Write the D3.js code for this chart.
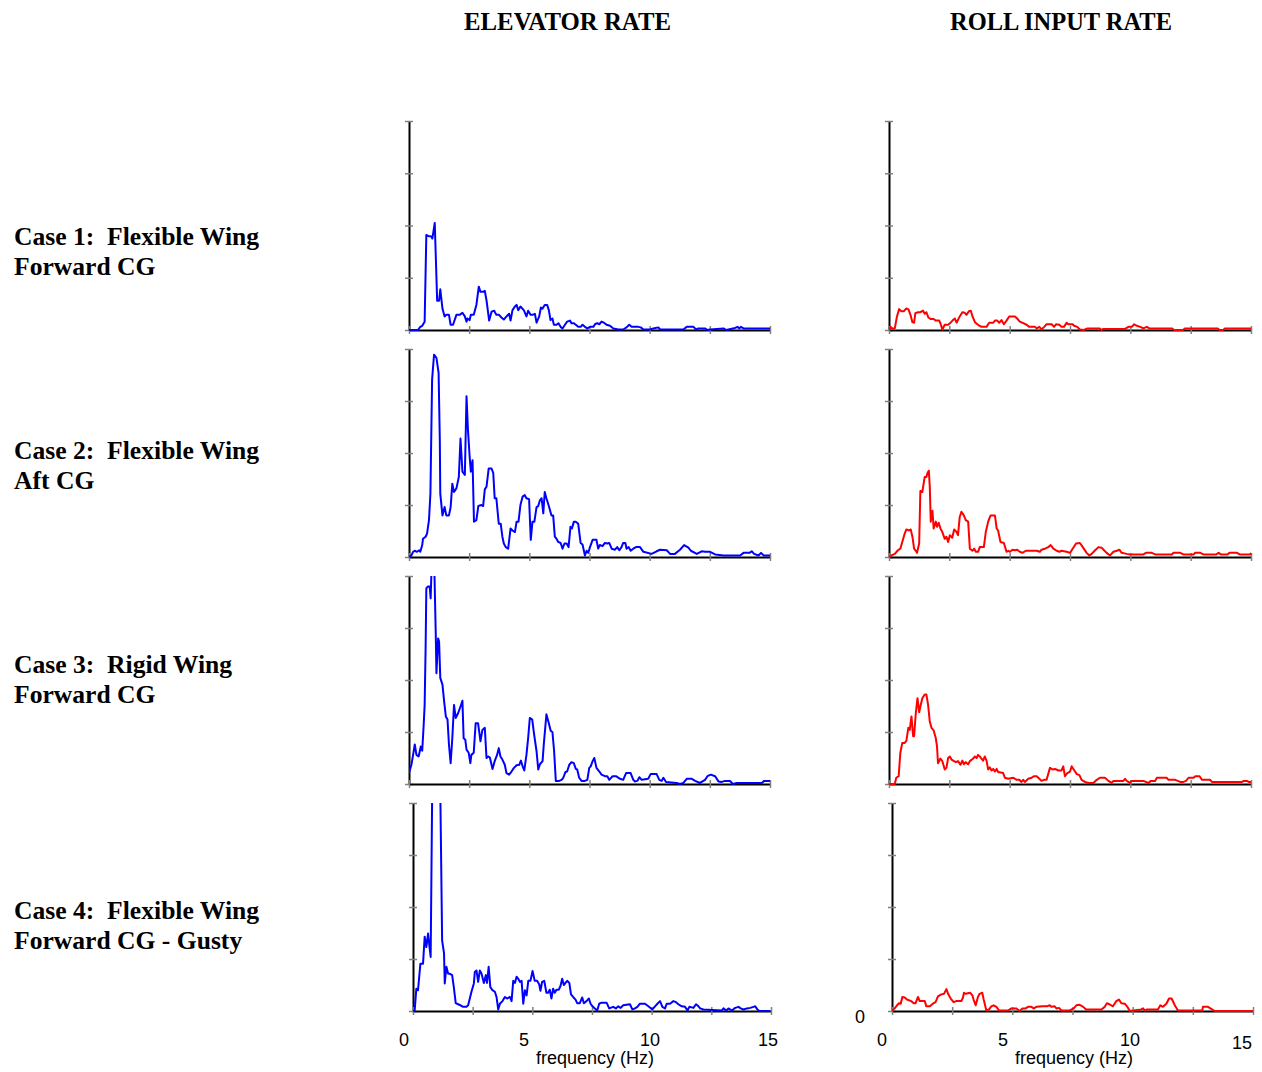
<!DOCTYPE html>
<html><head><meta charset="utf-8">
<script src="https://cdn.jsdelivr.net/npm/d3@7"></script>
<style>body{margin:0;background:#fff} svg{display:block}</style>
</head><body><svg id="c" width="1262" height="1072"></svg>
<script>
const columnTitles = ["ELEVATOR RATE", "ROLL INPUT RATE"];
const caseLines = [
  ["Case 1:  Flexible Wing", "Forward CG"],
  ["Case 2:  Flexible Wing", "Aft CG"],
  ["Case 3:  Rigid Wing", "Forward CG"],
  ["Case 4:  Flexible Wing", "Forward CG - Gusty"]
];
const xTickLabels = [0, 5, 10, 15];
const xTickMarks = [0, 2.5, 5, 7.5, 10, 12.5, 15];
const yTickMarks = [0, 1, 2, 3, 4];
const xLabel = "frequency (Hz)";
const yZeroLabel = "0";

// [frequency Hz, PSD (tick units)]
const elev1 = [[0,0],[0.37,0],[0.47,0.06],[0.55,0.08],[0.65,0.16],[0.72,1.82],[0.79,1.80],[0.93,1.79],[0.97,1.75],[1.07,2.05],[1.17,0.56],[1.25,0.56],[1.30,0.78],[1.39,0.41],[1.48,0.26],[1.55,0.29],[1.66,0.29],[1.73,0.10],[1.83,0.10],[1.97,0.29],[2.11,0.29],[2.22,0.33],[2.32,0.26],[2.39,0.16],[2.43,0.22],[2.52,0.19],[2.57,0.29],[2.69,0.29],[2.80,0.48],[2.90,0.83],[2.97,0.73],[3.08,0.73],[3.15,0.75],[3.22,0.57],[3.33,0.18],[3.43,0.35],[3.54,0.37],[3.63,0.29],[3.74,0.29],[3.84,0.24],[3.94,0.20],[4.05,0.26],[4.16,0.31],[4.22,0.18],[4.30,0.38],[4.40,0.45],[4.47,0.48],[4.54,0.38],[4.63,0.45],[4.77,0.38],[4.88,0.26],[4.95,0.37],[5.05,0.29],[5.13,0.29],[5.23,0.31],[5.30,0.14],[5.41,0.26],[5.48,0.43],[5.55,0.41],[5.64,0.48],[5.74,0.48],[5.81,0.38],[5.88,0.19],[5.96,0.22],[6.02,0.10],[6.13,0.10],[6.21,0.13],[6.30,0.06],[6.38,0.03],[6.48,0.10],[6.57,0.16],[6.69,0.18],[6.75,0.13],[6.85,0.13],[6.93,0.10],[7.03,0.06],[7.13,0.06],[7.21,0.10],[7.31,0.06],[7.41,0.03],[7.52,0.06],[7.66,0.06],[7.73,0.11],[7.82,0.13],[7.91,0.11],[8.00,0.16],[8.10,0.14],[8.21,0.10],[8.35,0.08],[8.49,0.03],[8.70,0.01],[8.90,0.01],[9.04,0.05],[9.15,0.10],[9.25,0.06],[9.53,0.06],[9.63,0.05],[9.74,0.01],[10.01,0.01],[10.15,0.03],[10.36,0.05],[10.43,0.01],[11.40,0.01],[11.54,0.06],[11.82,0.06],[11.93,0.01],[12.02,0.03],[12.30,0.03],[12.40,0],[12.51,0.01],[13.07,0.03],[13.18,0],[13.27,0.01],[13.55,0.04],[13.65,0.06],[13.73,0.03],[13.79,0.06],[13.90,0.03],[15,0.03]];
const elev2 = [[0,0],[0.10,0.03],[0.17,0.10],[0.24,0.12],[0.33,0.10],[0.42,0.13],[0.47,0.10],[0.55,0.23],[0.58,0.35],[0.69,0.39],[0.75,0.45],[0.83,0.71],[0.89,1.22],[0.96,3.41],[1.04,3.89],[1.14,3.83],[1.23,3.54],[1.28,2.25],[1.30,1.22],[1.39,0.80],[1.48,0.96],[1.55,0.80],[1.66,0.80],[1.73,0.96],[1.80,1.41],[1.87,1.25],[1.97,1.32],[2.07,1.54],[2.14,2.28],[2.22,1.64],[2.32,1.58],[2.39,3.09],[2.45,2.44],[2.52,1.93],[2.57,1.64],[2.64,1.86],[2.70,0.68],[2.80,0.71],[2.88,0.98],[3.01,1.00],[3.08,0.98],[3.15,1.30],[3.22,1.35],[3.31,1.70],[3.43,1.70],[3.50,1.62],[3.56,1.13],[3.63,1.13],[3.73,0.64],[3.81,0.64],[3.88,0.39],[3.94,0.26],[4.02,0.19],[4.12,0.16],[4.22,0.55],[4.30,0.51],[4.40,0.48],[4.47,0.68],[4.55,0.68],[4.63,1.00],[4.72,1.16],[4.81,1.19],[4.88,1.13],[4.99,1.11],[5.06,0.33],[5.13,0.68],[5.21,0.68],[5.30,0.96],[5.37,0.98],[5.44,1.09],[5.51,1.13],[5.58,0.84],[5.64,1.25],[5.71,1.13],[5.81,0.98],[5.92,0.80],[5.99,0.80],[6.06,0.39],[6.13,0.35],[6.20,0.29],[6.30,0.27],[6.38,0.16],[6.46,0.26],[6.55,0.26],[6.63,0.19],[6.71,0.58],[6.77,0.55],[6.85,0.68],[6.93,0.68],[7.03,0.64],[7.13,0.27],[7.21,0.24],[7.31,0.03],[7.38,0.12],[7.45,0.08],[7.52,0.19],[7.63,0.33],[7.79,0.33],[7.86,0.16],[7.93,0.23],[8.04,0.21],[8.14,0.27],[8.24,0.26],[8.32,0.27],[8.42,0.16],[8.56,0.14],[8.65,0.19],[8.74,0.13],[8.83,0.19],[8.90,0.27],[8.99,0.27],[9.04,0.16],[9.13,0.19],[9.21,0.12],[9.32,0.16],[9.43,0.19],[9.60,0.19],[9.74,0.10],[10.08,0.06],[10.29,0.11],[10.43,0.14],[10.71,0.13],[10.85,0.06],[11.05,0.06],[11.26,0.14],[11.43,0.23],[11.61,0.18],[11.71,0.12],[11.96,0.06],[12.16,0.11],[12.30,0.10],[12.51,0.10],[12.72,0.05],[13.07,0.03],[13.76,0.03],[13.90,0.08],[14.15,0.08],[14.24,0.11],[14.34,0.06],[14.52,0.03],[14.63,0.08],[14.73,0.03],[15,0.03]];
const elev3 = [[0,0.21],[0.10,0.37],[0.17,0.56],[0.24,0.76],[0.31,0.56],[0.40,0.53],[0.49,0.72],[0.55,0.64],[0.61,1.14],[0.65,1.52],[0.69,2.61],[0.72,3.76],[0.79,3.80],[0.86,3.80],[0.90,3.57],[0.94,4.2],[1.00,4.3],[1.05,4.2],[1.11,2.93],[1.14,2.13],[1.21,2.80],[1.25,2.74],[1.30,2.04],[1.39,1.91],[1.46,1.59],[1.53,1.30],[1.60,1.24],[1.66,0.76],[1.73,0.40],[1.80,0.88],[1.87,1.52],[1.94,1.27],[2.04,1.36],[2.14,1.49],[2.22,1.60],[2.27,0.88],[2.34,0.85],[2.39,0.66],[2.48,0.60],[2.55,0.40],[2.59,0.56],[2.69,0.60],[2.77,1.17],[2.87,1.17],[2.97,0.82],[3.05,1.04],[3.15,1.08],[3.22,0.50],[3.29,0.53],[3.36,0.51],[3.47,0.29],[3.56,0.44],[3.66,0.56],[3.73,0.69],[3.80,0.53],[3.88,0.47],[3.98,0.37],[4.05,0.21],[4.16,0.18],[4.26,0.24],[4.36,0.31],[4.47,0.36],[4.58,0.37],[4.65,0.45],[4.72,0.34],[4.79,0.26],[4.88,0.56],[4.95,0.88],[5.02,1.27],[5.12,1.24],[5.20,0.95],[5.30,0.63],[5.37,0.28],[5.44,0.38],[5.55,0.44],[5.60,0.76],[5.71,1.34],[5.81,1.17],[5.89,1.02],[5.96,1.00],[6.03,0.63],[6.10,0.06],[6.24,0.06],[6.34,0.08],[6.41,0.12],[6.50,0.23],[6.57,0.24],[6.66,0.37],[6.75,0.42],[6.85,0.40],[6.93,0.29],[6.99,0.28],[7.07,0.12],[7.17,0.06],[7.31,0.06],[7.41,0.08],[7.49,0.31],[7.55,0.34],[7.63,0.44],[7.70,0.50],[7.79,0.31],[7.91,0.24],[8.00,0.18],[8.14,0.15],[8.24,0.15],[8.32,0.08],[8.46,0.15],[8.60,0.15],[8.77,0.10],[8.90,0.08],[9.02,0.21],[9.21,0.21],[9.32,0.08],[9.39,0.05],[9.49,0.06],[9.57,0.13],[9.67,0.08],[9.94,0.10],[10.04,0.19],[10.29,0.19],[10.40,0.08],[10.50,0.06],[10.57,0.12],[10.68,0.04],[11.12,0.02],[11.26,0],[11.40,0.02],[11.54,0.10],[11.75,0.10],[11.89,0.06],[12.09,0.02],[12.30,0.08],[12.40,0.15],[12.54,0.18],[12.72,0.15],[12.86,0.05],[13.00,0.04],[13.13,0.06],[13.34,0.06],[13.45,0],[13.62,0.02],[14.66,0.02],[14.76,0.06],[15,0.06]];
const elev4 = [[0,0],[0.07,0.01],[0.14,0.43],[0.21,0.40],[0.31,0.91],[0.42,0.91],[0.49,1.43],[0.56,1.23],[0.63,1.49],[0.70,1.20],[0.74,1.04],[0.83,5.5],[0.97,6.0],[1.11,5.5],[1.22,1.36],[1.30,1.11],[1.33,0.53],[1.40,0.85],[1.47,0.72],[1.57,0.71],[1.64,0.69],[1.71,0.46],[1.79,0.15],[1.89,0.13],[1.99,0.11],[2.10,0.08],[2.24,0.08],[2.31,0.11],[2.38,0.24],[2.45,0.37],[2.55,0.53],[2.59,0.75],[2.66,0.78],[2.73,0.56],[2.80,0.78],[2.87,0.72],[2.97,0.54],[3.05,0.69],[3.10,0.54],[3.17,0.85],[3.24,0.46],[3.33,0.40],[3.43,0.37],[3.50,0.27],[3.57,0.03],[3.64,0.14],[3.75,0.19],[3.85,0.27],[3.94,0.24],[4.06,0.27],[4.13,0.19],[4.20,0.58],[4.27,0.54],[4.34,0.66],[4.41,0.62],[4.48,0.56],[4.55,0.58],[4.62,0.14],[4.69,0.40],[4.76,0.30],[4.83,0.58],[4.92,0.58],[5.01,0.77],[5.10,0.58],[5.20,0.58],[5.29,0.51],[5.34,0.39],[5.41,0.56],[5.50,0.58],[5.59,0.35],[5.66,0.35],[5.73,0.41],[5.80,0.24],[5.87,0.43],[5.94,0.35],[6.01,0.41],[6.11,0.41],[6.18,0.48],[6.25,0.62],[6.32,0.50],[6.39,0.54],[6.46,0.58],[6.55,0.54],[6.62,0.32],[6.71,0.27],[6.81,0.22],[6.88,0.15],[6.99,0.15],[7.09,0.26],[7.16,0.15],[7.27,0.19],[7.37,0.24],[7.44,0.14],[7.52,0.09],[7.62,0.05],[7.72,0.01],[7.80,0.14],[7.90,0.16],[8.11,0.16],[8.22,0.05],[8.39,0.08],[8.50,0.05],[8.60,0.09],[8.70,0.06],[8.81,0.11],[9.09,0.13],[9.19,0.03],[9.30,0.05],[9.40,0.08],[9.51,0.14],[9.72,0.14],[9.86,0.09],[10.03,0.03],[10.14,0.09],[10.24,0.14],[10.35,0.19],[10.45,0.08],[10.56,0.05],[10.63,0.14],[10.77,0.14],[10.91,0.19],[11.02,0.17],[11.12,0.13],[11.26,0.09],[11.40,0.08],[11.50,0.01],[11.58,0.08],[11.75,0.06],[11.86,0.13],[11.96,0.09],[12.03,0.05],[12.17,0.03],[12.94,0.01],[13.01,0.05],[13.12,0.01],[13.22,0.05],[13.36,0.01],[13.50,0.06],[13.64,0.08],[13.73,0.05],[13.85,0.03],[13.99,0.05],[14.13,0.06],[14.27,0.08],[14.34,0.09],[14.43,0.03],[14.52,0],[14.97,0]];
const roll1 = [[0,0],[0.06,0.06],[0.14,0.03],[0.24,0.03],[0.33,0.26],[0.42,0.40],[0.51,0.36],[0.61,0.36],[0.72,0.41],[0.80,0.40],[0.89,0.29],[0.97,0.15],[1.04,0.14],[1.09,0.32],[1.20,0.34],[1.30,0.34],[1.41,0.37],[1.48,0.31],[1.55,0.34],[1.63,0.24],[1.72,0.21],[1.85,0.21],[1.94,0.18],[2.08,0.18],[2.13,0.13],[2.21,0.01],[2.31,0.10],[2.45,0.10],[2.55,0.14],[2.63,0.18],[2.73,0.22],[2.80,0.14],[2.93,0.26],[3.04,0.34],[3.14,0.33],[3.21,0.29],[3.31,0.36],[3.39,0.37],[3.46,0.26],[3.56,0.15],[3.69,0.10],[3.83,0.06],[4.04,0.06],[4.15,0.14],[4.32,0.14],[4.39,0.18],[4.48,0.18],[4.57,0.14],[4.66,0.19],[4.76,0.11],[4.87,0.18],[4.98,0.26],[5.22,0.26],[5.31,0.22],[5.42,0.16],[5.56,0.13],[5.70,0.10],[5.81,0.06],[6.05,0.06],[6.12,0.03],[6.23,0.06],[6.32,0.01],[6.43,0.06],[6.53,0.11],[6.74,0.11],[6.84,0.06],[6.92,0.11],[7.06,0.10],[7.15,0.06],[7.25,0.06],[7.36,0.14],[7.43,0.11],[7.61,0.11],[7.67,0.08],[7.80,0.06],[7.91,0.01],[8.08,0],[8.22,0.03],[8.72,0.03],[8.81,0],[8.88,0.02],[9.78,0.02],[9.92,0.06],[10.06,0.06],[10.16,0.11],[10.27,0.08],[10.41,0.06],[10.54,0.03],[10.68,0.06],[10.79,0.03],[11.72,0.03],[11.82,0],[12.18,0],[12.27,0.03],[13.62,0.03],[13.70,0],[13.84,0],[13.93,0.03],[15,0.03]];
const roll2 = [[0,0],[0.10,0.03],[0.24,0.06],[0.37,0.13],[0.47,0.16],[0.55,0.29],[0.65,0.45],[0.72,0.53],[0.83,0.51],[0.90,0.53],[0.97,0.39],[1.04,0.16],[1.11,0.12],[1.16,0.08],[1.25,0.26],[1.30,1.27],[1.38,1.25],[1.48,1.54],[1.55,1.54],[1.59,1.61],[1.65,1.66],[1.69,1.35],[1.73,0.68],[1.80,0.89],[1.85,0.55],[1.94,0.68],[1.99,0.58],[2.06,0.66],[2.13,0.55],[2.21,0.48],[2.31,0.35],[2.38,0.39],[2.45,0.29],[2.52,0.42],[2.62,0.37],[2.70,0.53],[2.80,0.48],[2.86,0.42],[2.93,0.77],[3.00,0.87],[3.10,0.80],[3.18,0.71],[3.28,0.68],[3.35,0.16],[3.46,0.12],[3.53,0.16],[3.60,0.10],[3.69,0.10],[3.76,0.19],[3.93,0.19],[4.01,0.48],[4.11,0.68],[4.21,0.80],[4.39,0.80],[4.46,0.55],[4.52,0.51],[4.62,0.29],[4.76,0.27],[4.87,0.10],[4.94,0.12],[5.01,0.10],[5.12,0.14],[5.22,0.13],[5.31,0.14],[5.42,0.10],[5.53,0.08],[5.67,0.12],[6.12,0.12],[6.25,0.10],[6.32,0.14],[6.46,0.16],[6.60,0.19],[6.70,0.23],[6.81,0.16],[6.95,0.12],[7.06,0.10],[7.15,0.12],[7.36,0.10],[7.50,0.08],[7.61,0.16],[7.75,0.26],[7.91,0.27],[8.03,0.19],[8.19,0.08],[8.30,0.03],[8.40,0.06],[8.54,0.13],[8.68,0.19],[8.81,0.18],[8.91,0.13],[9.02,0.08],[9.16,0.03],[9.30,0.10],[9.44,0.12],[9.55,0.14],[9.64,0.08],[9.85,0.06],[9.99,0.05],[10.54,0.05],[10.65,0.08],[10.89,0.08],[11.03,0.05],[11.72,0.05],[11.79,0.08],[12.07,0.08],[12.20,0.05],[12.62,0.05],[12.69,0.08],[12.90,0.08],[13.03,0.05],[13.56,0.05],[13.66,0.08],[13.75,0.05],[14.03,0.05],[14.11,0.08],[14.42,0.08],[14.53,0.05],[14.97,0.05],[15,0.08]];
const roll3 = [[0,0],[0.24,0],[0.30,0.12],[0.40,0.15],[0.47,0.60],[0.55,0.79],[0.65,0.79],[0.72,0.83],[0.80,1.08],[0.86,1.04],[0.93,1.30],[1.00,0.92],[1.04,0.92],[1.11,1.36],[1.18,1.65],[1.25,1.38],[1.30,1.49],[1.38,1.65],[1.48,1.72],[1.55,1.72],[1.62,1.52],[1.69,1.20],[1.76,1.08],[1.85,1.03],[1.94,0.88],[1.99,0.72],[2.03,0.40],[2.13,0.49],[2.21,0.44],[2.31,0.28],[2.38,0.31],[2.45,0.50],[2.52,0.53],[2.59,0.47],[2.77,0.42],[2.86,0.44],[2.96,0.37],[3.04,0.45],[3.10,0.38],[3.18,0.42],[3.28,0.38],[3.35,0.44],[3.49,0.49],[3.56,0.53],[3.63,0.50],[3.69,0.56],[3.76,0.53],[3.83,0.49],[3.90,0.45],[3.97,0.53],[4.04,0.45],[4.11,0.28],[4.18,0.32],[4.25,0.26],[4.32,0.29],[4.39,0.24],[4.46,0.29],[4.52,0.23],[4.73,0.21],[4.80,0.12],[4.94,0.10],[5.15,0.12],[5.29,0.08],[5.40,0.08],[5.49,0.04],[5.56,0.08],[5.63,0.04],[5.77,0.10],[5.91,0.12],[6.01,0.15],[6.12,0.15],[6.23,0.10],[6.32,0.06],[6.42,0.08],[6.53,0.08],[6.67,0.31],[6.74,0.29],[6.81,0.28],[6.88,0.29],[7.02,0.26],[7.15,0.26],[7.22,0.34],[7.29,0.15],[7.39,0.21],[7.50,0.24],[7.57,0.34],[7.64,0.29],[7.71,0.24],[7.78,0.19],[7.89,0.17],[7.98,0.08],[8.12,0.04],[8.26,0.02],[8.47,0.02],[8.61,0.08],[8.74,0.12],[8.95,0.12],[9.09,0.06],[9.23,0.02],[9.30,0.06],[9.71,0.06],[9.78,0.10],[9.85,0.06],[9.99,0.02],[10.06,0.06],[10.54,0.06],[10.75,0.02],[10.85,0.06],[11.03,0.06],[11.10,0.12],[11.51,0.12],[11.58,0.08],[11.86,0.08],[12.07,0.04],[12.20,0.04],[12.31,0.06],[12.41,0.12],[12.62,0.12],[12.69,0.15],[12.87,0.15],[12.97,0.08],[13.31,0.08],[13.38,0.04],[14.63,0.04],[14.70,0.06],[14.83,0.06],[14.90,0.04],[15,0.04]];
const roll4 = [[0,0],[0.11,0.05],[0.21,0.11],[0.29,0.15],[0.36,0.14],[0.43,0.27],[0.53,0.26],[0.62,0.22],[0.80,0.19],[0.90,0.15],[0.98,0.15],[1.08,0.27],[1.15,0.19],[1.36,0.19],[1.43,0.09],[1.57,0.09],[1.70,0.14],[1.81,0.17],[1.91,0.28],[2.05,0.32],[2.16,0.33],[2.26,0.42],[2.34,0.32],[2.44,0.24],[2.56,0.17],[2.67,0.19],[2.88,0.19],[2.95,0.26],[2.99,0.35],[3.06,0.33],[3.25,0.35],[3.34,0.30],[3.39,0.22],[3.48,0.11],[3.57,0.27],[3.64,0.33],[3.75,0.35],[3.81,0.22],[3.92,0.01],[4.03,0.03],[4.13,0.09],[4.22,0.11],[4.34,0.08],[4.45,0.01],[4.82,0.01],[4.96,0.05],[5.17,0.05],[5.30,0],[5.42,0.05],[5.55,0.05],[5.65,0.08],[5.79,0.08],[5.89,0.05],[6.00,0.08],[6.27,0.09],[6.44,0.09],[6.55,0.11],[6.62,0.08],[6.76,0.09],[6.83,0.05],[6.94,0.06],[7.04,0.01],[7.38,0.01],[7.55,0.05],[7.66,0.11],[7.80,0.12],[7.91,0.09],[8.07,0.03],[8.70,0.03],[8.84,0.08],[8.93,0.15],[9.07,0.12],[9.18,0.09],[9.25,0.14],[9.32,0.19],[9.43,0.22],[9.53,0.15],[9.67,0.14],[9.78,0.08],[9.88,0],[10.36,0.03],[10.43,0.05],[10.50,0.01],[10.60,0.03],[11.05,0.03],[11.15,0.11],[11.26,0.08],[11.40,0.14],[11.51,0.24],[11.62,0.24],[11.75,0.11],[11.88,0.01],[12.89,0.01],[12.92,0.08],[13.13,0.08],[13.23,0.05],[13.41,0],[15,0]];

const elevSeries = [elev1, elev2, elev3, elev4];
const rollSeries = [roll1, roll2, roll3, roll4];

// ---- layout ----
const svg = d3.select("#c");
const rowsY = [[121, 330], [349, 557], [576, 784], [803, 1011]];
const colsX = [
  [[409, 770], [409, 770], [409, 770], [413, 771]],
  [[889, 1251], [889, 1251], [889, 1251], [892, 1253]]
];
const colColors = ["#0000ff", "#ff0000"];
const titleX = [567.5, 1061];
const titleW = [207, 222];
const serif = "'Times New Roman','Liberation Serif',serif";
const sans = "Arial,'Liberation Sans',sans-serif";

columnTitles.forEach((t, i) => {
  svg.append("text").attr("x", titleX[i] - titleW[i] / 2).attr("y", 30)
    .attr("textLength", titleW[i]).attr("lengthAdjust", "spacingAndGlyphs")
    .style("font-family", serif).style("font-weight", "bold").style("font-size", "25px")
    .text(t);
});

const caseBase = [245, 459, 673, 919];
caseLines.forEach((lines, i) => {
  lines.forEach((ln, j) => {
    svg.append("text").attr("x", 14).attr("y", caseBase[i] + 30 * j)
      .style("font-family", serif).style("font-weight", "bold").style("font-size", "25.6px")
      .style("white-space", "pre").attr("xml:space", "preserve")
      .text(ln);
  });
});

const seriesByCol = [elevSeries, rollSeries];
seriesByCol.forEach((series, c) => {
  series.forEach((data, r) => {
    const [x0, x1] = colsX[c][r];
    const [top, bottom] = rowsY[r];
    const x = d3.scaleLinear().domain([0, 15]).range([x0, x1]);
    const y = d3.scaleLinear().domain([0, 4]).range([bottom, top]);
    const g = svg.append("g");
    const cid = `clip${c}${r}`;
    svg.append("clipPath").attr("id", cid).append("rect")
      .attr("x", x0).attr("y", top).attr("width", x1 - x0 + 2).attr("height", bottom - top + 3);

    const ya = g.append("g").attr("transform", `translate(${x0},0)`)
      .call(d3.axisLeft(y).tickValues(yTickMarks).tickFormat("").tickSizeOuter(0).tickSizeInner(4));
    ya.select(".domain").attr("stroke", "#000").attr("stroke-width", 2);
    ya.selectAll(".tick line").attr("x1", -4).attr("x2", 4).attr("stroke", "#808080").attr("stroke-width", 1.5);

    const xa = g.append("g").attr("transform", `translate(0,${bottom})`)
      .call(d3.axisBottom(x).tickValues(xTickMarks).tickFormat("").tickSizeOuter(0).tickSizeInner(4));
    xa.select(".domain").attr("stroke", "#000").attr("stroke-width", 2);
    xa.selectAll(".tick line").attr("y1", -4).attr("y2", 4).attr("stroke", "#808080").attr("stroke-width", 1.5);

    const line = d3.line().x(d => x(d[0])).y(d => y(d[1]));
    g.append("path").datum(data).attr("d", line).attr("clip-path", `url(#${cid})`)
      .attr("fill", "none").attr("stroke", colColors[c]).attr("stroke-width", 2)
      .attr("stroke-linejoin", "round");
  });
});

const labelScales = [
  d3.scaleLinear().domain([0, 5, 10, 15]).range([404, 524, 650, 768]),
  d3.scaleLinear().domain([0, 5, 10, 15]).range([882, 1003, 1130, 1242])
];
const labelBase = [[1046, 1046, 1046, 1046], [1046, 1046, 1046, 1049]];
labelScales.forEach((ls, c) => {
  xTickLabels.forEach((v, k) => {
    svg.append("text").attr("x", ls(v)).attr("y", labelBase[c][k])
      .attr("text-anchor", "middle").style("font-family", sans).style("font-size", "18px")
      .text(v);
  });
});
[595, 1074].forEach(cx => {
  svg.append("text").attr("x", cx).attr("y", 1064).attr("text-anchor", "middle")
    .style("font-family", sans).style("font-size", "18px").text(xLabel);
});
svg.append("text").attr("x", 860).attr("y", 1023).attr("text-anchor", "middle")
  .style("font-family", sans).style("font-size", "18px").text(yZeroLabel);
</script>
</body></html>
